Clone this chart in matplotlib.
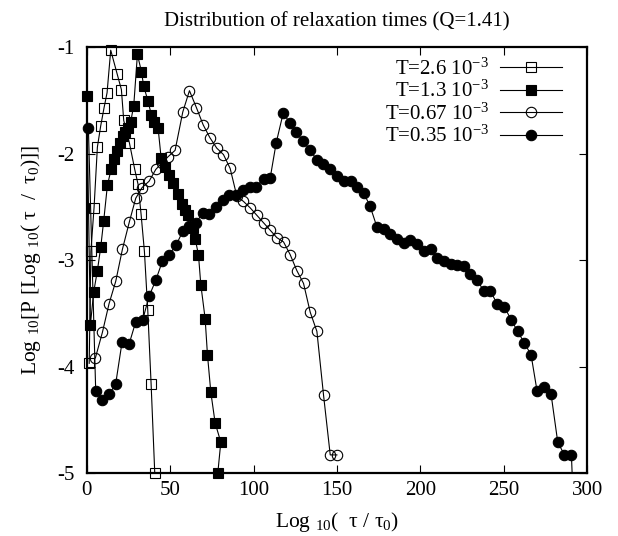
import numpy as np
import matplotlib
matplotlib.use('Agg')
import matplotlib.pyplot as plt

plt.rcParams['font.family'] = ['Liberation Serif', 'DejaVu Serif']
plt.rcParams['mathtext.fontset'] = 'custom'
plt.rcParams['mathtext.rm'] = 'Liberation Serif'
plt.rcParams['mathtext.it'] = 'Liberation Serif:italic'
plt.rcParams['axes.unicode_minus'] = False

TITLE = 'Distribution of relaxation times (Q=1.41)'
LABELS = ['T=2.6 10$^{-3}$', 'T=1.3 10$^{-3}$', 'T=0.67 10$^{-3}$', 'T=0.35 10$^{-3}$']

# T = 2.6e-3 (open squares)
x_t26 = [1.5, 2.5, 4.4, 6.4, 8.4, 10.4, 12.2, 14.4, 18.2, 20.8, 22.2, 25.6,
         28.8, 30.8, 32.6, 34.6, 36.6, 38.6, 40.8]
y_t26 = [-3.97, -2.92, -2.51, -1.94, -1.74, -1.57, -1.43, -1.03, -1.25, -1.40,
         -1.69, -1.90, -2.15, -2.29, -2.57, -2.92, -3.47, -4.16, -5.0]

# T = 1.3e-3 (filled squares)
x_t13 = [0.0, 2.2, 4.2, 6.4, 8.4, 10.2, 12.4, 14.6, 16.4, 18.2, 20.0, 21.6,
         23.0, 24.6, 26.4, 28.2, 30.4, 32.8, 34.2, 36.8, 38.8, 40.4, 42.8, 44.6,
         47.2, 49.2, 52.0, 54.6, 57.0, 59.0, 61.0, 63.6, 65.0, 67.0, 68.4, 71.0,
         72.4, 74.4, 77.0, 80.4, 78.6]
y_t13 = [-1.46, -3.61, -3.30, -3.10, -2.88, -2.63, -2.30, -2.15, -2.05, -1.98,
         -1.90, -1.84, -1.80, -1.76, -1.70, -1.55, -1.07, -1.23, -1.37, -1.51,
         -1.64, -1.70, -1.76, -2.04, -2.13, -2.20, -2.28, -2.38, -2.47, -2.53,
         -2.58, -2.70, -2.80, -2.95, -3.23, -3.55, -3.89, -4.24, -4.53, -4.71,
         -5.0]

# T = 0.67e-3 (open circles)
x_t067 = [5.2, 9.4, 13.4, 17.4, 21.4, 25.6, 29.4, 33.2, 37.4, 41.4, 45.0, 48.8,
          53.0, 57.6, 61.6, 65.8, 69.8, 73.8, 78.0, 82.0, 86.0, 90.0, 94.0, 98.0,
          102.0, 106.0, 110.0, 114.0, 118.0, 122.0, 126.0, 130.0, 134.0, 138.0,
          142.0, 146.0, 150.0]
y_t067 = [-3.92, -3.68, -3.41, -3.20, -2.90, -2.64, -2.42, -2.32, -2.26, -2.15,
          -2.09, -2.03, -1.97, -1.61, -1.41, -1.57, -1.73, -1.85, -1.95, -2.01,
          -2.14, -2.40, -2.45, -2.51, -2.58, -2.65, -2.72, -2.79, -2.83, -2.95,
          -3.10, -3.22, -3.49, -3.67, -4.27, -4.83, -4.83]

# T = 0.35e-3 (filled circles)
x_t035 = [1.0, 5.4, 9.4, 13.6, 17.4, 21.2, 25.4, 29.4, 33.6, 37.4, 41.4, 45.4,
          49.4, 53.6, 57.6, 61.6, 65.4, 69.6, 73.6, 77.6, 81.6, 85.6, 89.6, 93.6,
          97.6, 101.6, 106.0, 110.0, 113.6, 117.8, 121.7, 125.6, 129.6, 134.0,
          138.0, 141.6, 146.0, 150.0, 154.0, 158.2, 162.0, 166.0, 169.8, 174.0,
          178.0, 182.0, 186.0, 190.0, 194.0, 198.0, 202.0, 206.2, 210.0, 214.0,
          218.2, 222.0, 226.0, 230.0, 234.2, 238.0, 242.0, 246.0, 250.4, 254.4,
          258.4, 262.4, 266.4, 270.0, 274.4, 278.4, 282.4, 286.4, 290.6, 292.0]
y_t035 = [-1.76, -4.23, -4.31, -4.26, -4.16, -3.77, -3.79, -3.58, -3.56, -3.34,
          -3.19, -3.01, -2.95, -2.86, -2.73, -2.68, -2.65, -2.56, -2.57, -2.50,
          -2.44, -2.39, -2.39, -2.34, -2.31, -2.31, -2.24, -2.23, -1.90, -1.62,
          -1.71, -1.80, -1.88, -1.97, -2.06, -2.10, -2.15, -2.21, -2.26, -2.26,
          -2.31, -2.37, -2.49, -2.69, -2.71, -2.76, -2.80, -2.84, -2.81, -2.85,
          -2.92, -2.90, -2.98, -3.01, -3.04, -3.05, -3.06, -3.13, -3.19, -3.29,
          -3.29, -3.41, -3.44, -3.56, -3.67, -3.78, -3.89, -4.23, -4.19, -4.26,
          -4.71, -4.83, -4.83, -5.40]

XMIN, XMAX = 0, 300
YMIN, YMAX = -5, -1
FS = 15

series = [
    (x_t26, y_t26, dict(marker='s', mfc='none', ms=7.5, mew=0.8)),
    (x_t13, y_t13, dict(marker='s', mfc='black', ms=7.5, mew=0.8)),
    (x_t067, y_t067, dict(marker='o', mfc='none', ms=7.5, mew=0.8)),
    (x_t035, y_t035, dict(marker='o', mfc='black', ms=7.5, mew=0.8)),
]

fig = plt.figure(figsize=(6.18, 5.36), dpi=100)
ax = fig.add_axes([0.1403, 0.1175, 0.8097, 0.7948])

handles = []
for (xs, ys, style), label in zip(series, LABELS):
    xs = np.asarray(xs)
    ys = np.asarray(ys)
    ax.plot(xs, ys, color='black', lw=0.8, zorder=2)
    # markers sit on the frame like gnuplot, line stays clipped
    inside = ys >= YMIN
    ax.plot(xs[inside], ys[inside], ls='none', color='black',
            clip_on=False, zorder=3, **style)
    h, = ax.plot([], [], color='black', lw=0.8, **style)
    handles.append(h)

ax.set_xlim(XMIN, XMAX)
ax.set_ylim(YMIN, YMAX)
ax.set_xticks(np.arange(0, 301, 50))
ax.set_yticks(np.arange(-5, -0.5, 1))
ax.tick_params(direction='in', length=6, width=0.8, top=True, right=True,
               labelsize=FS)
ax.tick_params(axis='x', pad=6)
ax.tick_params(axis='y', pad=9)
for sp in ax.spines.values():
    sp.set_linewidth(1.6)

ax.set_title(TITLE, fontsize=FS, pad=15)
ax.set_xlabel('Log $_{10}$(  \u03c4 / \u03c4$_0$)', fontsize=FS + 0.5, labelpad=7)
ax.set_ylabel('Log $_{10}$[P [Log $_{10}$( \u03c4  /  \u03c4$_0$)]]',
              fontsize=FS + 0.5, labelpad=10)

ax.legend(handles, LABELS, loc='upper right', markerfirst=False, frameon=False,
          fontsize=FS, handlelength=3.0, handletextpad=0.5, labelspacing=0.06,
          borderaxespad=0, borderpad=0.4, bbox_to_anchor=(0.967, 0.993))

plt.savefig('out.png', dpi=100)
